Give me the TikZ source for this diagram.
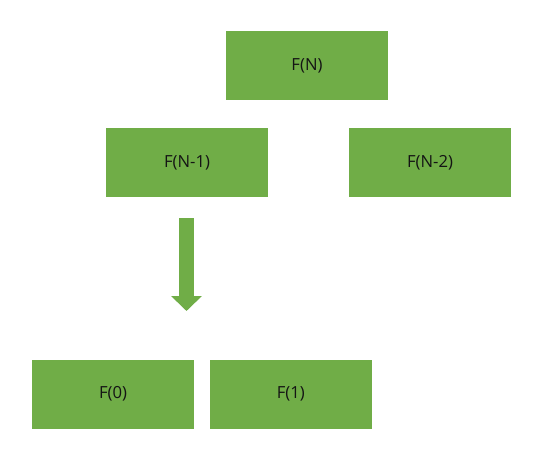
\documentclass[tikz,border=0pt]{standalone}
\usepackage{fontspec}
\setmainfont{Open Sans}
\usepackage{xcolor}
\usepackage{tikz}
\usetikzlibrary{arrows.meta, positioning}

\definecolor{boxgreen}{HTML}{70AD47}
\definecolor{boxtext}{HTML}{141414}

\begin{document}
\begin{tikzpicture}[
        x=0.75pt, y=-0.75pt,
        node distance=11.5pt and 11.5pt,
        block/.style={rectangle, fill=boxgreen, minimum width=121.5pt,
                      minimum height=51.75pt, inner sep=0pt,
                      font=\fontsize{12.5}{15}\selectfont, text=boxtext},
        bigarr/.style={-{Triangle[width=22.5pt, length=11.25pt]},
                       line width=11.25pt, boxgreen},
    ]
        \useasboundingbox (0,0) rectangle (536,472);

        % Top level
        \node[block] (fn) at (307,65.5) {F(N)};

        % Second level
        \node[block] (fn1) at (187,162.5) {F(N-1)};
        \node[block] (fn2) at (430,162.5) {F(N-2)};

        % Base cases
        \node[block] (f0) at (113,394) {F(0)};
        \node[block, right=of f0] (f1) {F(1)};

        % Arrow down
        \coordinate (atop) at (186.5,218);
        \coordinate (abot) at (186.5,311);
        \draw[bigarr] (atop) -- (abot);
    \end{tikzpicture}
\end{document}
